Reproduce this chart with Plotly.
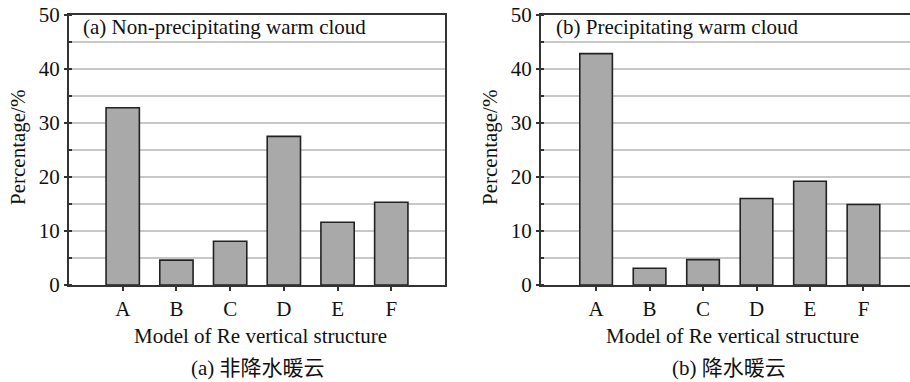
import plotly.graph_objects as go

categories = ["A", "B", "C", "D", "E", "F"]
non_precip = [32.8, 4.6, 8.1, 27.5, 11.6, 15.3]
precip = [42.8, 3.1, 4.7, 16.0, 19.2, 14.9]
y_ticks = [0, 10, 20, 30, 40, 50]

W, H = 910, 382
def px(x):
    return x / W
def py(y):
    return 1 - y / H

FONT = "Liberation Serif, Times New Roman, serif"
CJK = "Liberation Serif, Noto Sans CJK SC, serif"
TXT = "#111111"
BAR = "#a9a9a9"
EDGE = "#222222"
GRID = "#c8c8c8"
AX = "#333333"
FS = 21

fig = go.Figure()
fig.add_trace(go.Bar(x=categories, y=non_precip, xaxis="x", yaxis="y",
                     marker=dict(color=BAR, line=dict(color=EDGE, width=1.6)),
                     width=0.62, showlegend=False))
fig.add_trace(go.Bar(x=categories, y=precip, xaxis="x2", yaxis="y2",
                     marker=dict(color=BAR, line=dict(color=EDGE, width=1.6)),
                     width=0.61, showlegend=False))

ydom = [py(285), py(14.7)]

def xaxis(domain, rng, anchor, mirror):
    return dict(domain=domain, range=rng, anchor=anchor, type="category",
                showline=True, linecolor=AX, linewidth=2, mirror=mirror,
                ticks="outside", ticklen=4, tickcolor=AX, tickwidth=1.5,
                tickfont=dict(family=FONT, size=FS, color=TXT),
                showgrid=False, zeroline=False, fixedrange=True, automargin=False)

def yaxis(anchor, mirror):
    return dict(domain=ydom, range=[0, 50], anchor=anchor,
                tickvals=y_ticks, ticktext=[str(v) for v in y_ticks],
                showline=True, linecolor=AX, linewidth=2, mirror=mirror,
                ticks="outside", ticklen=3, tickcolor=AX, tickwidth=1.5,
                tickfont=dict(family=FONT, size=FS, color=TXT),
                showgrid=True, gridcolor=GRID, gridwidth=1.5,
                minor=dict(dtick=5, tick0=0, showgrid=True, gridcolor=GRID, gridwidth=1.5,
                           ticks="inside", ticklen=3, tickcolor=AX, tickwidth=1.5),
                zeroline=False, fixedrange=True, automargin=False)

fig.update_layout(
    width=W, height=H, margin=dict(l=0, r=0, t=0, b=0, pad=0),
    paper_bgcolor="white", plot_bgcolor="white",
    bargap=0.38,
    xaxis=xaxis([px(69), px(445)], [-1.0, 6.0], "y", True),
    yaxis=yaxis("x", True),
    xaxis2=xaxis([px(541), 1.0], [-1.03, 5.87], "y2", True),
    yaxis2=yaxis("x2", False),
)

anns = [
    dict(x=px(81), y=py(27), text="(a) Non-precipitating warm cloud", xanchor="left", yanchor="middle"),
    dict(x=px(554), y=py(27), text="(b) Precipitating warm cloud", xanchor="left", yanchor="middle"),
    dict(x=px(260), y=py(336), text="Model of Re vertical structure", xanchor="center", yanchor="middle"),
    dict(x=px(732), y=py(336), text="Model of Re vertical structure", xanchor="center", yanchor="middle"),
    dict(x=px(18), y=py(148), text="Percentage/%", xanchor="center", yanchor="middle", textangle=-90),
    dict(x=px(490), y=py(148), text="Percentage/%", xanchor="center", yanchor="middle", textangle=-90),
]
for a in anns:
    fig.add_annotation(xref="paper", yref="paper", showarrow=False,
                       font=dict(family=FONT, size=FS, color=TXT), **a)

for x, t in [(258, "(a) 非降水暖云"), (729, "(b) 降水暖云")]:
    fig.add_annotation(xref="paper", yref="paper", showarrow=False, x=px(x), y=py(368),
                       xanchor="center", yanchor="middle", text=t,
                       font=dict(family=CJK, size=FS, color=TXT))

fig.write_html("out.html")
